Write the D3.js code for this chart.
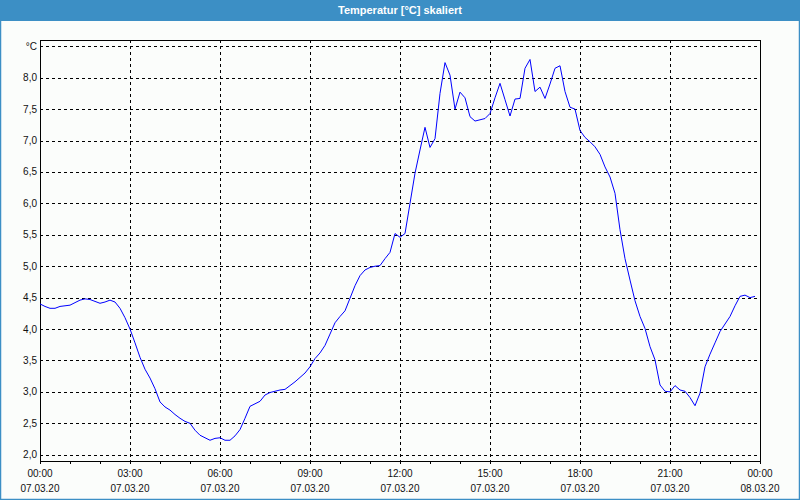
<!DOCTYPE html>
<html>
<head>
<meta charset="utf-8">
<script src="https://cdn.jsdelivr.net/npm/d3@7"></script>
<style>
  html, body { margin: 0; padding: 0; background: #fbfdfb; }
  svg { display: block; }
  text { font-family: "Liberation Sans", Arial, sans-serif; }
</style>
</head>
<body>
<div id="chart"></div>
<script>
// temperature, one reading every 10 minutes, 07.03.20 00:00 .. 23:50
const temps = [
  4.40, 4.36, 4.33, 4.33, 4.36, 4.37, 4.38, 4.42, 4.46, 4.48, 4.47, 4.44,
  4.41, 4.43, 4.46, 4.43, 4.33, 4.18, 4.00, 3.78, 3.55, 3.36, 3.22, 3.05,
  2.84, 2.76, 2.71, 2.64, 2.58, 2.53, 2.50, 2.39, 2.31, 2.27, 2.23, 2.26,
  2.27, 2.23, 2.23, 2.30, 2.40, 2.58, 2.77, 2.81, 2.85, 2.95, 2.99, 3.01,
  3.03, 3.04, 3.10, 3.16, 3.23, 3.30, 3.40, 3.53, 3.62, 3.74, 3.92, 4.10,
  4.20, 4.29, 4.49, 4.69, 4.85, 4.94, 4.98, 5.00, 5.01, 5.12, 5.22, 5.52,
  5.46, 5.52, 6.00, 6.48, 6.85, 7.21, 6.89, 7.03, 7.75, 8.24, 8.04, 7.50,
  7.77, 7.68, 7.38, 7.31, 7.33, 7.35, 7.43, 7.68, 7.91, 7.65, 7.39, 7.66,
  7.67, 8.15, 8.29, 7.78, 7.85, 7.67, 7.90, 8.15, 8.19, 7.78, 7.53, 7.50,
  7.16, 7.05, 6.98, 6.90, 6.78, 6.58, 6.42, 6.16, 5.58, 5.12, 4.78, 4.45,
  4.20, 4.01, 3.72, 3.51, 3.11, 3.01, 3.00, 3.10, 3.03, 3.01, 2.91, 2.78,
  2.98, 3.40, 3.60, 3.78, 3.96, 4.08, 4.20, 4.37, 4.52, 4.54, 4.50, 4.52
];
const startTime = new Date(2020, 2, 7, 0, 0);
const stepMinutes = 10;

const yTicks = [2.0, 2.5, 3.0, 3.5, 4.0, 4.5, 5.0, 5.5, 6.0, 6.5, 7.0, 7.5, 8.0, 8.5];
const yUnit = "°C";
const xTickHours = [0, 3, 6, 9, 12, 15, 18, 21, 24];
const title = "Temperatur [°C] skaliert";

const width = 800, height = 500;
const margin = { top: 40, right: 40, bottom: 39, left: 40 };

const data = temps.map((v, i) => ({
  date: new Date(startTime.getTime() + i * stepMinutes * 60000),
  value: v
}));

const svg = d3.select("#chart").append("svg")
  .attr("width", width)
  .attr("height", height);

// window frame + title bar
svg.append("rect")
  .attr("x", 0.5).attr("y", 0.5)
  .attr("width", width - 1).attr("height", height - 1)
  .attr("fill", "#fbfdfb")
  .attr("stroke", "#3c8fc5")
  .attr("stroke-width", 1.5);
svg.append("rect")
  .attr("x", 0).attr("y", 0)
  .attr("width", width).attr("height", 21)
  .attr("fill", "#3c8fc5");
svg.append("text")
  .attr("x", width / 2).attr("y", 14)
  .attr("text-anchor", "middle")
  .attr("fill", "#ffffff")
  .attr("font-size", "11px")
  .attr("font-weight", "bold")
  .text(title);

const x = d3.scaleTime()
  .domain([startTime, d3.timeHour.offset(startTime, 24)])
  .range([margin.left, width - margin.right]);

const y = d3.scaleLinear()
  .domain([1.9, 8.6])
  .range([height - margin.bottom, margin.top]);

const grid = svg.append("g")
  .attr("stroke", "#000")
  .attr("stroke-dasharray", "3,3")
  .attr("shape-rendering", "crispEdges");

grid.selectAll("line.h")
  .data(yTicks)
  .enter()
  .append("line")
  .attr("class", "h")
  .attr("x1", margin.left)
  .attr("x2", width - margin.right)
  .attr("y1", d => Math.round(y(d)) + 0.5)
  .attr("y2", d => Math.round(y(d)) + 0.5);

grid.selectAll("line.v")
  .data(xTickHours.slice(1, -1))
  .enter()
  .append("line")
  .attr("class", "v")
  .attr("x1", d => Math.round(x(d3.timeHour.offset(startTime, d))) + 0.5)
  .attr("x2", d => Math.round(x(d3.timeHour.offset(startTime, d))) + 0.5)
  .attr("y1", margin.top)
  .attr("y2", height - margin.bottom);

// frame of the plot area
svg.append("rect")
  .attr("x", margin.left + 0.5)
  .attr("y", margin.top + 0.5)
  .attr("width", width - margin.left - margin.right)
  .attr("height", height - margin.top - margin.bottom)
  .attr("fill", "none")
  .attr("stroke", "#000")
  .attr("shape-rendering", "crispEdges");

// bottom axis: hourly ticks, labels every 3 hours
const xAxis = d3.axisBottom(x)
  .ticks(d3.timeHour.every(1))
  .tickSize(3)
  .tickFormat("");
svg.append("g")
  .attr("transform", "translate(0," + (height - margin.bottom) + ")")
  .call(xAxis)
  .call(g => g.select(".domain").remove())
  .call(g => g.selectAll("line").attr("shape-rendering", "crispEdges"));

const fmtTime = d3.timeFormat("%H:%M");
const fmtDate = d3.timeFormat("%d.%m.%y");
const xLabels = svg.append("g")
  .attr("font-size", "10px")
  .attr("fill", "#111")
  .attr("text-anchor", "middle");
xTickHours.forEach(h => {
  const t = d3.timeHour.offset(startTime, h);
  xLabels.append("text").attr("x", x(t)).attr("y", 477).text(fmtTime(t));
  xLabels.append("text").attr("x", x(t)).attr("y", 492).text(fmtDate(t));
});

const fmtY = d => d.toFixed(1).replace(".", ",");
svg.append("g")
  .attr("font-size", "10px")
  .attr("fill", "#111")
  .attr("text-anchor", "end")
  .selectAll("text")
  .data(yTicks)
  .enter()
  .append("text")
  .attr("x", 37)
  .attr("y", d => y(d) + 3.5)
  .text(d => d === 8.5 ? yUnit : fmtY(d));

const line = d3.line()
  .x(d => x(d.date))
  .y(d => y(d.value));

svg.append("path")
  .datum(data)
  .attr("fill", "none")
  .attr("stroke", "#0000ff")
  .attr("stroke-width", 1)
  .attr("d", line);
</script>
</body>
</html>
